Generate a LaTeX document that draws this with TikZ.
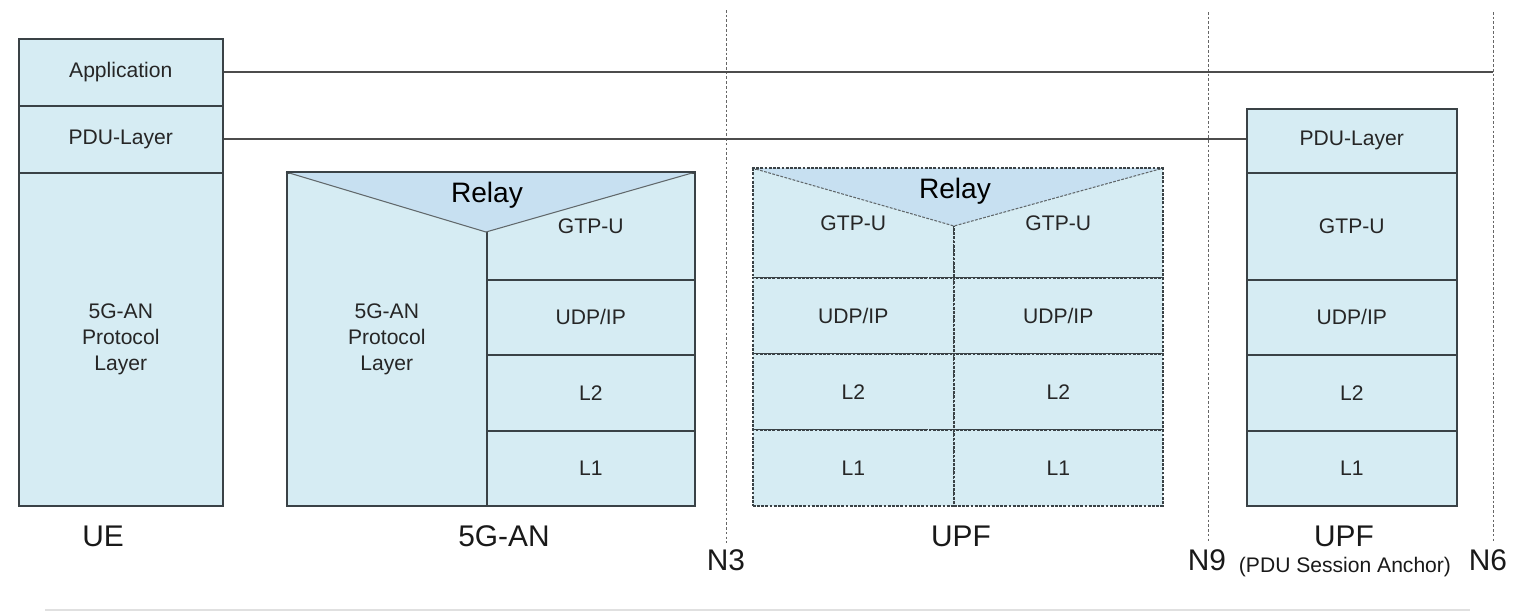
\documentclass[tikz,border=0pt]{standalone}
\usepackage{fontspec}
\setmainfont{Liberation Sans}
\usetikzlibrary{positioning}
\definecolor{cellblue}{RGB}{214,236,243}
\definecolor{relayblue}{RGB}{199,224,241}
\definecolor{edgegray}{RGB}{58,66,70}

\begin{document}
\begin{tikzpicture}[x=0.02cm, y=-0.02cm,
  cell/.style={draw=edgegray, fill=cellblue, line width=0.9pt, rectangle, inner sep=0pt, anchor=north west, align=center, text=black!85, font=\fontsize{12}{14.8}\selectfont},
  dcell/.style={cell, dash pattern=on 1.6pt off 0.8pt},
  iface/.style={draw=black!60, line width=0.4pt, dash pattern=on 1.5pt off 1.2pt},
  link/.style={draw=black!70, line width=0.9pt},
  big/.style={font=\fontsize{17}{20}\selectfont, text=black!90}]
\useasboundingbox (0,0) rectangle (1516,612);

\node[cell, minimum width=4.08cm, minimum height=1.34cm] (ueapp) at (18,38) {Application};
\node[cell, minimum width=4.08cm, minimum height=1.34cm] (uepdu) at (18,105) {PDU-Layer};
\node[cell, minimum width=4.08cm, minimum height=6.66cm] (ueprot) at (18,172) {5G-AN\\Protocol\\Layer};

\node[cell, minimum width=4.0cm, minimum height=6.66cm] (anprot) at (286,172) {5G-AN\\Protocol\\Layer};
\node[cell, minimum width=4.16cm, minimum height=2.14cm] (angtp) at (486,172) {GTP-U};
\node[cell, minimum width=4.16cm, minimum height=1.5cm] (anudp) at (486,279) {UDP/IP};
\node[cell, minimum width=4.16cm, minimum height=1.52cm] (anltwo) at (486,354) {L2};
\node[cell, minimum width=4.16cm, minimum height=1.5cm] (anlone) at (486,430) {L1};
\coordinate (antip) at (486,232);
\fill[relayblue] (anprot.north west) -- (antip) -- (angtp.north east) -- cycle;
\draw[edgegray!80, line width=0.6pt] (anprot.north west) -- (antip) -- (angtp.north east);
\draw[edgegray, line width=1.1pt] (anprot.north west) -- (angtp.north east);
\node[font=\fontsize{16}{19}\selectfont] (anrelay) at (487,195) {Relay};

\node[dcell, minimum width=4.02cm, minimum height=2.18cm] (upgtpl) at (752,168) {GTP-U};
\node[dcell, minimum width=4.18cm, minimum height=2.18cm] (upgtpr) at (953,168) {GTP-U};
\node[dcell, minimum width=4.02cm, minimum height=1.52cm] (upudpl) at (752,277) {UDP/IP};
\node[dcell, minimum width=4.18cm, minimum height=1.52cm] (upudpr) at (953,277) {UDP/IP};
\node[dcell, minimum width=4.02cm, minimum height=1.52cm] (upltwol) at (752,353) {L2};
\node[dcell, minimum width=4.18cm, minimum height=1.52cm] (upltwor) at (953,353) {L2};
\node[dcell, minimum width=4.02cm, minimum height=1.52cm] (uplonel) at (752,429) {L1};
\node[dcell, minimum width=4.18cm, minimum height=1.52cm] (uploner) at (953,429) {L1};
\coordinate (uptip) at (954,226);
\fill[relayblue] (upgtpl.north west) -- (uptip) -- (upgtpr.north east) -- cycle;
\draw[edgegray!80, line width=0.6pt, dash pattern=on 1.6pt off 0.8pt] (upgtpl.north west) -- (uptip) -- (upgtpr.north east);
\draw[edgegray, line width=0.9pt, dash pattern=on 1.6pt off 0.8pt] (upgtpl.north west) -- (upgtpr.north east);
\node[font=\fontsize{16}{19}\selectfont] (uprelay) at (955,191) {Relay};

\node[cell, minimum width=4.2cm, minimum height=1.28cm] (apdu) at (1246,108) {PDU-Layer};
\node[cell, minimum width=4.2cm, minimum height=2.14cm] (agtp) at (1246,172) {GTP-U};
\node[cell, minimum width=4.2cm, minimum height=1.5cm] (audp) at (1246,279) {UDP/IP};
\node[cell, minimum width=4.2cm, minimum height=1.52cm] (altwo) at (1246,354) {L2};
\node[cell, minimum width=4.2cm, minimum height=1.5cm] (alone) at (1246,430) {L1};

\node[big] (uelabel) at (103,536) {UE};
\node[big] (anlabel) at (504,536) {5G-AN};
\node[big] (uplabel) at (961,536) {UPF};
\node[big] (alabel) at (1344,536) {UPF};
\node[font=\fontsize{12}{14}\selectfont, text=black!90] (anote) at (1345,567) {(PDU Session Anchor)};
\node[big] (n3) at (726,560) {N3};
\node[big] (n9) at (1207,560) {N9};
\node[big] (n6) at (1488,560) {N6};

\coordinate (n3top) at (726,10);
\coordinate (n9top) at (1208,12);
\coordinate (n6top) at (1493,12);
\draw[iface] (n3top) -- (n3top |- n3.north);
\draw[iface] (n9top) -- (n9top |- n9.north);
\draw[iface] (n6top) -- (n6top |- n6.north);

\draw[link] (ueapp.east) -- (ueapp.east -| n6top);
\draw[link] (uepdu.east) -- (uepdu.east -| apdu.west);

\coordinate (rulel) at (45,610);
\coordinate (ruler) at (1470,610);
\draw[black!12, line width=0.6pt] (rulel) -- (ruler);

\end{tikzpicture}
\end{document}
